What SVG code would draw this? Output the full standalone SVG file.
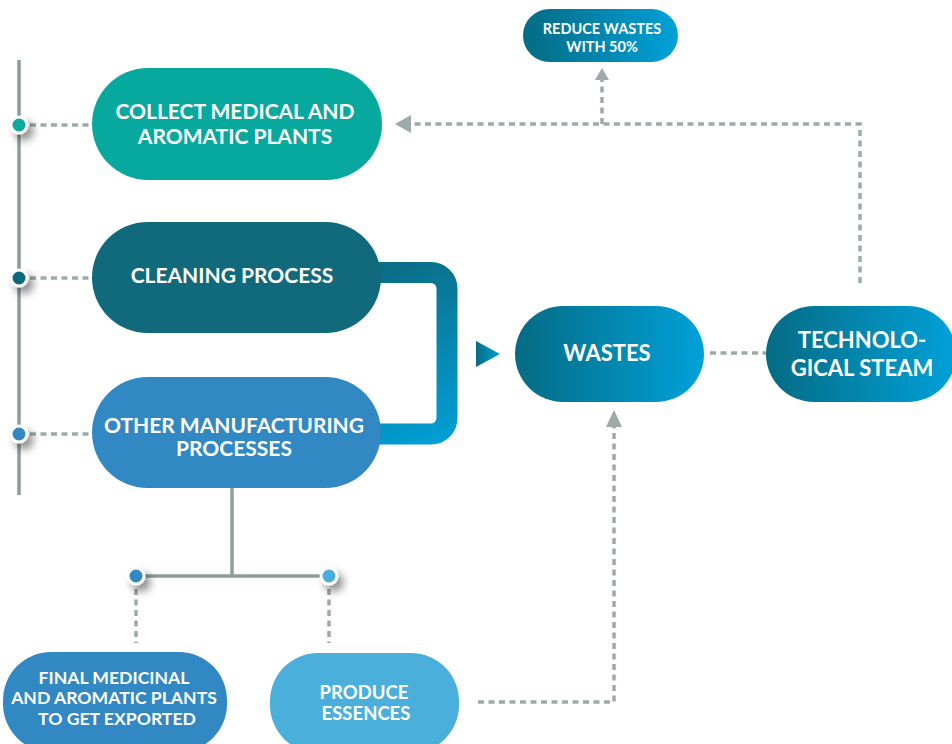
<svg xmlns="http://www.w3.org/2000/svg" width="952" height="744" viewBox="0 0 952 744">
  <defs>
    <linearGradient id="gBlue" x1="0" y1="0" x2="1" y2="0">
      <stop offset="0" stop-color="#056b84"/>
      <stop offset="1" stop-color="#00a1d9"/>
    </linearGradient>
    <linearGradient id="gBracket" gradientUnits="userSpaceOnUse" x1="380" y1="262" x2="457" y2="445">
      <stop offset="0" stop-color="#0b6c84"/>
      <stop offset="1" stop-color="#00a1d9"/>
    </linearGradient>
    <linearGradient id="gTri" x1="0" y1="0" x2="1" y2="0">
      <stop offset="0" stop-color="#056b84"/>
      <stop offset="1" stop-color="#00a1d9"/>
    </linearGradient>
    <filter id="shadow" x="-100%" y="-100%" width="300%" height="300%">
      <feDropShadow dx="5" dy="6" stdDeviation="4" flood-color="#000" flood-opacity="0.45"/>
    </filter>
  </defs>
  <style>
    .solid { fill: none; stroke: #8d9d9c; stroke-width: 3.5; }
    .dash { fill: none; stroke: #9eaaa9; stroke-width: 3.5; stroke-dasharray: 6 4.5; }
    .head { fill: #9eaaa9; }
    .dot { stroke: #ffffff; stroke-width: 3; filter: url(#shadow); }
    .t { fill: #ffffff; font-family: Lato, "Liberation Sans", sans-serif; font-weight: 700; text-anchor: middle; }
    .big { font-size: 21px; }
    .xl { font-size: 22px; }
    .mid { font-size: 17.6px; }
    .pe { font-size: 18.5px; }
    .sm { font-size: 14.5px; }
  </style>

  <g id="connectors">
    <!-- left timeline -->
    <line class="solid" x1="19" y1="60" x2="19" y2="495"/>
    <line class="dash" x1="30" y1="125" x2="92" y2="125"/>
    <line class="dash" x1="30" y1="278" x2="92" y2="278"/>
    <line class="dash" x1="30" y1="434" x2="92" y2="434"/>
    <!-- bracket from cleaning / other to wastes -->
    <path d="M360 272.5 H431 A16 16 0 0 1 447 288.5 V418 A16 16 0 0 1 431 434 H360" fill="none" stroke="url(#gBracket)" stroke-width="21"/>
    <polygon points="476,341 500,354 476,367" fill="url(#gTri)"/>
    <!-- wastes to tech steam -->
    <line class="dash" x1="710" y1="353" x2="766" y2="353"/>
    <!-- tech steam up and back to collect -->
    <polyline class="dash" points="860,283 860,124 412,124"/>
    <polygon class="head" points="395,124 411,115 411,133"/>
    <line class="dash" x1="602" y1="124" x2="602" y2="80"/>
    <polygon class="head" points="602,68 595,80 609,80"/>
    <!-- other manufacturing split -->
    <line class="solid" x1="232" y1="488" x2="232" y2="576"/>
    <line class="solid" x1="136" y1="576" x2="329" y2="576"/>
    <line class="dash" x1="136" y1="589" x2="136" y2="643"/>
    <line class="dash" x1="329" y1="589" x2="329" y2="643"/>
    <!-- produce essences to wastes -->
    <polyline class="dash" points="478,702 614,702 614,426"/>
    <polygon class="head" points="614,410 606,427 622,427"/>
    <!-- dots -->
    <circle class="dot" cx="19" cy="125" r="8" fill="#07a99e"/>
    <circle class="dot" cx="19" cy="278" r="8" fill="#116a7b"/>
    <circle class="dot" cx="19" cy="434" r="8" fill="#3188c3"/>
    <circle class="dot" cx="136" cy="576" r="8" fill="#3188c3"/>
    <circle class="dot" cx="329" cy="576" r="8" fill="#4aafda"/>
  </g>

  <g id="collect">
    <rect x="92" y="68" width="290" height="112" rx="56" fill="#07a99e"/>
    <text class="t big" x="235" y="119">COLLECT MEDICAL AND</text>
    <text class="t big" x="235" y="144">AROMATIC PLANTS</text>
  </g>
  <g id="cleaning">
    <rect x="92" y="222" width="289" height="111" rx="55.5" fill="#116a7b"/>
    <text class="t big" x="232" y="283">CLEANING PROCESS</text>
  </g>
  <g id="other">
    <rect x="92" y="377" width="289" height="111" rx="55.5" fill="#3188c3"/>
    <text class="t big" x="234" y="433">OTHER MANUFACTURING</text>
    <text class="t big" x="234" y="456">PROCESSES</text>
  </g>
  <g id="wastes">
    <rect x="515" y="306" width="189" height="96" rx="48" fill="url(#gBlue)"/>
    <text class="t xl" x="607" y="361">WASTES</text>
  </g>
  <g id="steam">
    <rect x="766" y="306" width="190" height="96" rx="48" fill="url(#gBlue)"/>
    <text class="t xl" x="862" y="348">TECHNOLO-</text>
    <text class="t xl" x="862" y="376">GICAL STEAM</text>
  </g>
  <g id="reduce">
    <rect x="523" y="9" width="155" height="53" rx="26.5" fill="url(#gBlue)"/>
    <text class="t sm" x="602" y="34">REDUCE WASTES</text>
    <text class="t sm" x="602" y="52">WITH 50%</text>
  </g>
  <g id="final">
    <rect x="3" y="652" width="224" height="100" rx="48" fill="#3188c3"/>
    <text class="t mid" x="114" y="684">FINAL MEDICINAL</text>
    <text class="t mid" x="114" y="704">AND AROMATIC PLANTS</text>
    <text class="t mid" x="117" y="725">TO GET EXPORTED</text>
  </g>
  <g id="essences">
    <rect x="270" y="653" width="189" height="100" rx="48" fill="#4aafda"/>
    <text class="t pe" x="364" y="699">PRODUCE</text>
    <text class="t pe" x="366" y="720">ESSENCES</text>
  </g>
</svg>
